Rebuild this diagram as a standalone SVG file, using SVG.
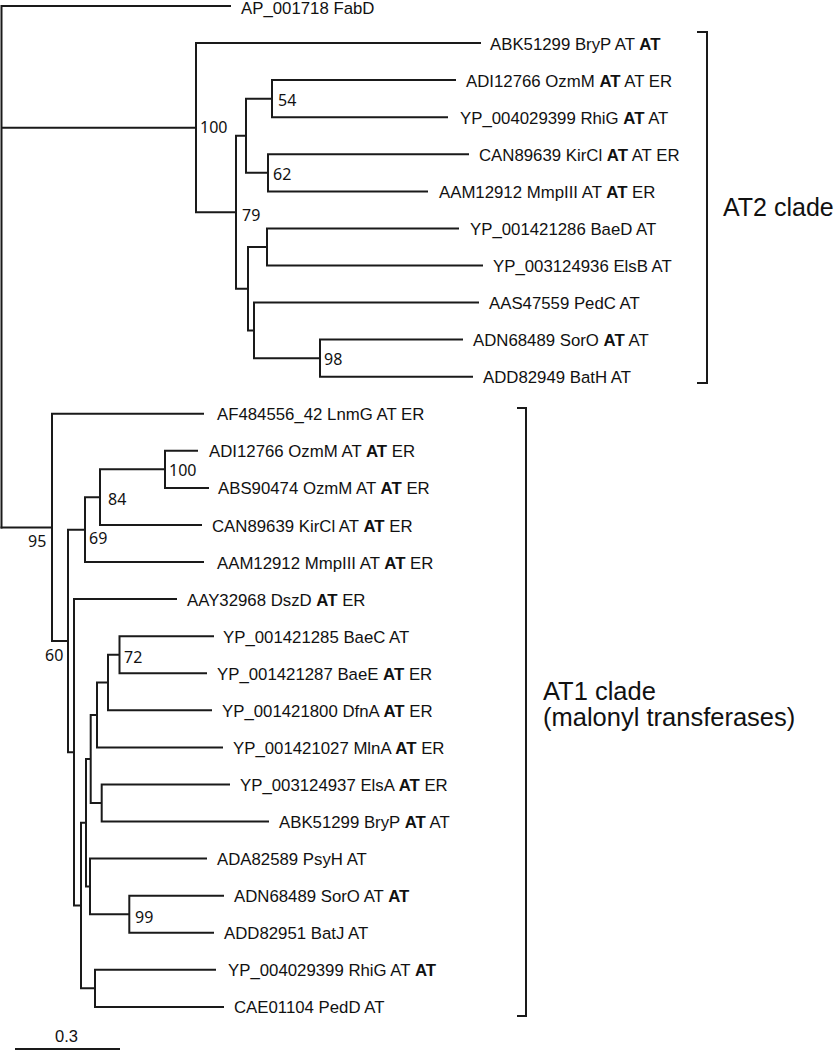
<svg xmlns="http://www.w3.org/2000/svg" width="835" height="1050" viewBox="0 0 835 1050">
<style>
.br{fill:none;stroke:#1a1a1a;stroke-width:2;stroke-linecap:square;stroke-linejoin:miter}
.lb{font-family:"Liberation Sans",Arial,sans-serif;font-size:16.8px;fill:#111}
.lb tspan.b{font-weight:bold}
.bs{font-family:"Noto Sans","DejaVu Sans",sans-serif;font-size:16px;fill:#111}
.cl{font-family:"Liberation Sans",Arial,sans-serif;font-size:25.5px;fill:#111}
</style>
<rect width="835" height="1050" fill="#fff"/>
<g id="connectors">
<path class="br" d="M1.5,6 V527.4 M1.5,6 H230 M1.5,127.65 H196 M196,43.1 V212.2 M196,43.1 H480 M196,212.2 H236 M236,135.75 V288.7 M236,135.75 H246 M246,98.65 V172.85 M246,98.65 H272 M272,80.1 V117.2 M272,80.1 H455 M272,117.2 H447 M246,172.85 H268 M268,154.3 V191.4 M268,154.3 H468 M268,191.4 H427 M236,288.7 H248 M248,246.95 V330.4 M248,246.95 H267 M267,228.4 V265.5 M267,228.4 H458 M267,265.5 H482 M248,330.4 H254 M254,302.6 V358.15 M254,302.6 H478 M254,358.15 H320 M320,339.6 V376.7 M320,339.6 H462 M320,376.7 H472"/>
<path class="br" d="M1.5,527.4 H52 M52,413.8 V641 M52,413.8 H203 M52,641 H68 M68,529.65 V752.3 M68,529.65 H85 M85,497.2 V562.1 M85,562.1 H203 M85,497.2 H100 M100,469.35 V525 M100,525 H201 M100,469.35 H165 M165,450.8 V487.9 M165,450.8 H197 M165,487.9 H208 M68,752.3 H74 M74,599.1 V905.5 M74,599.1 H176 M74,905.5 H81 M81,822.7 V988.35 M81,822.7 H86 M86,759 V886.4 M86,759 H90.7 M90.7,714.95 V803 M90.7,714.95 H97 M97,682.5 V747.4 M97,747.4 H222 M97,682.5 H108 M108,654.75 V710.3 M108,710.3 H211 M108,654.75 H119.5 M119.5,636.2 V673.3 M119.5,636.2 H213 M119.5,673.3 H206 M90.7,803 H101.7 M101.7,784.5 V821.5 M101.7,784.5 H229 M101.7,821.5 H268 M86,886.4 H90 M90,858.6 V914.25 M90,858.6 H206 M90,914.25 H129.3 M129.3,895.7 V932.8 M129.3,895.7 H223 M129.3,932.8 H213 M81,988.35 H95 M95,969.8 V1006.9 M95,969.8 H215 M95,1006.9 H223"/>
</g>
<g id="leaves">
<g id="leaf0"><text class="lb" x="241" y="13.5">AP_001718 FabD</text></g>
<g id="leaf1"><text class="lb" x="490" y="49.6">ABK51299 BryP AT <tspan class="b">AT</tspan></text></g>
<g id="leaf2"><text class="lb" x="466" y="86.6">ADI12766 OzmM <tspan class="b">AT</tspan> AT ER</text></g>
<g id="leaf3"><text class="lb" x="460" y="123.7">YP_004029399 RhiG <tspan class="b">AT</tspan> AT</text></g>
<g id="leaf4"><text class="lb" x="479" y="160.8">CAN89639 KirCl <tspan class="b">AT</tspan> AT ER</text></g>
<g id="leaf5"><text class="lb" x="439" y="197.9">AAM12912 MmpIII AT <tspan class="b">AT</tspan> ER</text></g>
<g id="leaf6"><text class="lb" x="470" y="234.9">YP_001421286 BaeD AT</text></g>
<g id="leaf7"><text class="lb" x="493" y="272">YP_003124936 ElsB AT</text></g>
<g id="leaf8"><text class="lb" x="489" y="309.1">AAS47559 PedC AT</text></g>
<g id="leaf9"><text class="lb" x="473" y="346.1">ADN68489 SorO <tspan class="b">AT</tspan> AT</text></g>
<g id="leaf10"><text class="lb" x="483" y="383.2">ADD82949 BatH AT</text></g>
<g id="leaf11"><text class="lb" x="217" y="420.3">AF484556_42 LnmG AT ER</text></g>
<g id="leaf12"><text class="lb" x="209" y="457.3">ADI12766 OzmM AT <tspan class="b">AT</tspan> ER</text></g>
<g id="leaf13"><text class="lb" x="218" y="494.4">ABS90474 OzmM AT <tspan class="b">AT</tspan> ER</text></g>
<g id="leaf14"><text class="lb" x="212" y="531.5">CAN89639 KirCl AT <tspan class="b">AT</tspan> ER</text></g>
<g id="leaf15"><text class="lb" x="217" y="568.6">AAM12912 MmpIII AT <tspan class="b">AT</tspan> ER</text></g>
<g id="leaf16"><text class="lb" x="187" y="605.6">AAY32968 DszD <tspan class="b">AT</tspan> ER</text></g>
<g id="leaf17"><text class="lb" x="223" y="642.7">YP_001421285 BaeC AT</text></g>
<g id="leaf18"><text class="lb" x="217" y="679.8">YP_001421287 BaeE <tspan class="b">AT</tspan> ER</text></g>
<g id="leaf19"><text class="lb" x="222" y="716.8">YP_001421800 DfnA <tspan class="b">AT</tspan> ER</text></g>
<g id="leaf20"><text class="lb" x="233" y="753.9">YP_001421027 MlnA <tspan class="b">AT</tspan> ER</text></g>
<g id="leaf21"><text class="lb" x="240" y="791">YP_003124937 ElsA <tspan class="b">AT</tspan> ER</text></g>
<g id="leaf22"><text class="lb" x="279" y="828">ABK51299 BryP <tspan class="b">AT</tspan> AT</text></g>
<g id="leaf23"><text class="lb" x="217" y="865.1">ADA82589 PsyH AT</text></g>
<g id="leaf24"><text class="lb" x="234" y="902.2">ADN68489 SorO AT <tspan class="b">AT</tspan></text></g>
<g id="leaf25"><text class="lb" x="224" y="939.3">ADD82951 BatJ AT</text></g>
<g id="leaf26"><text class="lb" x="228" y="976.3">YP_004029399 RhiG AT <tspan class="b">AT</tspan></text></g>
<g id="leaf27"><text class="lb" x="234" y="1013.4">CAE01104 PedD AT</text></g>
</g>
<g id="support">
<g id="bs1"><text class="bs" x="200" y="133">100</text></g>
<g id="bs2"><text class="bs" x="278" y="105.5">54</text></g>
<g id="bs3"><text class="bs" x="273" y="180">62</text></g>
<g id="bs4"><text class="bs" x="242" y="220.5">79</text></g>
<g id="bs5"><text class="bs" x="324" y="365">98</text></g>
<g id="bs6"><text class="bs" x="28" y="547">95</text></g>
<g id="bs7"><text class="bs" x="169" y="475.5">100</text></g>
<g id="bs8"><text class="bs" x="108" y="505">84</text></g>
<g id="bs9"><text class="bs" x="89" y="544">69</text></g>
<g id="bs10"><text class="bs" x="45" y="660.5">60</text></g>
<g id="bs11"><text class="bs" x="124" y="662.5">72</text></g>
<g id="bs12"><text class="bs" x="135" y="922.5">99</text></g>
</g>
<g id="at2-clade">
<path class="br" d="M698,32 H707 V383 H698"/>
<text class="cl" x="723" y="215.5" style="font-size:25px">AT2 clade</text>
</g>
<g id="at1-clade">
<path class="br" d="M518,408 H526 V1016 H518"/>
<text class="cl" x="543" y="700">AT1 clade</text>
<text class="cl" x="543" y="726">(malonyl transferases)</text>
</g>
<g id="scale">
<path class="br" d="M16,1049 H119"/>
<text class="lb" x="55" y="1041.5" style="font-size:16.5px">0.3</text>
</g>
</svg>
